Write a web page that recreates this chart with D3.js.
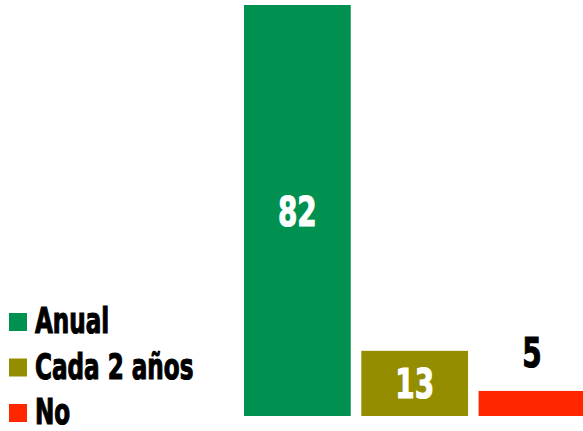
<!DOCTYPE html>
<html>
<head>
<meta charset="utf-8">
<script src="https://cdn.jsdelivr.net/npm/d3@7"></script>
<style>
  body { margin: 0; background: #fff; }
  text { font-family: "DejaVu Sans", sans-serif; font-weight: bold; }
</style>
</head>
<body>
<div id="chart"></div>
<script>
  const categories = ["Anual", "Cada 2 años", "No"];
  const values = [82, 13, 5];
  const colors = ["#009150", "#958d00", "#ff2600"];

  const width = 583;
  const height = 431;
  const margin = { top: 5, right: 0, bottom: 15, left: 244 };
  const innerHeight = height - margin.top - margin.bottom;

  const svg = d3.select("#chart")
    .append("svg")
    .attr("width", width)
    .attr("height", height);

  const x = d3.scaleBand()
    .domain(categories)
    .range([margin.left, margin.left + 117.3 * (3 - 0.09)])
    .paddingInner(0.09)
    .paddingOuter(0);

  const y = d3.scaleLinear()
    .domain([0, 82])
    .range([margin.top + innerHeight, margin.top]);

  const color = d3.scaleOrdinal().domain(categories).range(colors);

  svg.selectAll("rect.bar")
    .data(categories)
    .join("rect")
    .attr("class", "bar")
    .attr("x", (d) => x(d))
    .attr("y", (d, i) => y(values[i]))
    .attr("width", x.bandwidth())
    .attr("height", (d, i) => y(0) - y(values[i]))
    .attr("fill", (d) => color(d));

  // value labels: inside for tall bars, above for the short one
  // condensed look: squeeze the text horizontally, stroke makes it heavier
  svg.selectAll("text.value")
    .data(categories)
    .join("text")
    .attr("class", "value")
    .attr("transform", (d, i) => {
      const top = y(values[i]);
      const h = y(0) - top;
      const ty = h > 50 ? top + h / 2 + 15 : top - 24;
      return `translate(${x(d) + x.bandwidth() / 2},${ty}) scale(0.68,1)`;
    })
    .attr("text-anchor", "middle")
    .attr("font-size", 41)
    .attr("fill", (d, i) => (y(0) - y(values[i]) > 50 ? "#fff" : "#000"))
    .attr("stroke", (d, i) => (y(0) - y(values[i]) > 50 ? "#fff" : "#000"))
    .attr("stroke-width", 1.2)
    .text((d, i) => values[i]);

  const legend = svg.append("g").attr("transform", "translate(9,313)");

  const item = legend.selectAll("g")
    .data(categories)
    .join("g")
    .attr("transform", (d, i) => `translate(0,${i * 45.5})`);

  item.append("rect")
    .attr("width", 18)
    .attr("height", 18)
    .attr("fill", (d) => color(d));

  item.append("text")
    .attr("transform", "translate(26,20) scale(0.66,1)")
    .attr("font-size", 35)
    .attr("fill", "#000")
    .attr("stroke", "#000")
    .attr("stroke-width", 1.2)
    .text((d) => d);
</script>
</body>
</html>
